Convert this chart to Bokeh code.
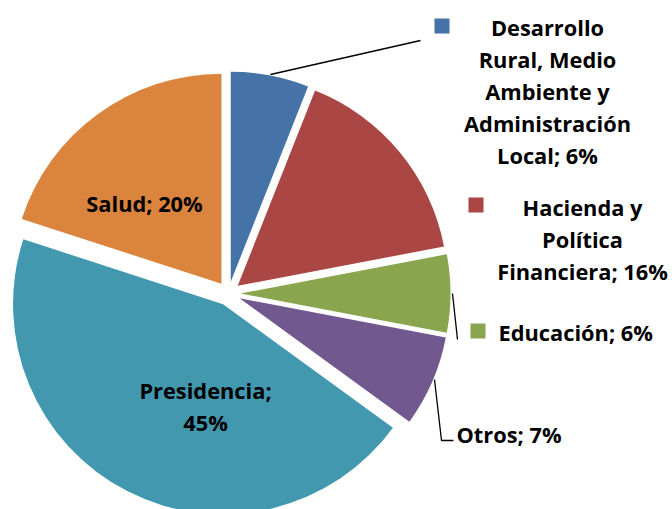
import numpy as np
from bokeh.plotting import figure
from bokeh.models import Range1d, ColumnDataSource
from bokeh.core.properties import value
from bokeh.embed import file_html
from bokeh.resources import INLINE

# ---- data ----
categories = ["Desarrollo Rural, Medio Ambiente y Administración Local",
              "Hacienda y Política Financiera", "Educación", "Otros",
              "Presidencia", "Salud"]
shares = [6, 16, 6, 7, 45, 20]
colors = ["#4572A7", "#AA4643", "#89A54E", "#71588F", "#4198AF", "#DB843D"]
label_lines = [
    ["Desarrollo", "Rural, Medio", "Ambiente y", "Administración", "Local; 6%"],
    ["Hacienda y", "Política", "Financiera; 16%"],
    ["Educación; 6%"],
    ["Otros; 7%"],
    ["Presidencia;", "45%"],
    ["Salud; 20%"],
]

W, H = 672, 509
p = figure(width=W, height=H, x_range=Range1d(0, W), y_range=Range1d(0, H),
           output_backend="svg", toolbar_location=None, min_border=0)
p.axis.visible = False
p.grid.visible = False
p.outline_line_color = None
p.background_fill_color = "white"

def Y(py):
    return H - py

cx, cy = 228, Y(293)
R = 210
explode = 12

vals = np.array(shares, dtype=float)
frac = vals / vals.sum()
theta1 = np.cumsum(frac) * 2 * np.pi
theta0 = theta1 - frac * 2 * np.pi
mid = (theta0 + theta1) / 2
xs = cx + explode * np.sin(mid)
ys = cy + explode * np.cos(mid)
src = ColumnDataSource(dict(x=xs, y=ys, start=np.pi / 2 - theta1,
                            end=np.pi / 2 - theta0, color=colors))
p.wedge(x="x", y="y", radius=R, start_angle="start", end_angle="end",
        direction="anticlock", fill_color="color", line_color=None, source=src)

FONT = value("Open Sans")
FS = "21.8px"
LH = 32

def draw_lines(lines, x, y0, align="center"):
    ys_ = [Y(y0 + i * LH) for i in range(len(lines))]
    p.text(x=[x] * len(lines), y=ys_, text=lines, text_font=FONT,
           text_font_size=FS, text_font_style="bold", text_align=align,
           text_baseline="middle", text_color="black")

# outside labels with keys
draw_lines(label_lines[0], 547, 27)
draw_lines(label_lines[1], 582, 207)
draw_lines(label_lines[2], 498, 332, align="left")
draw_lines(label_lines[3], 456, 434, align="left")
# inside labels
draw_lines(label_lines[4], 205, 390)
draw_lines(label_lines[5], 144, 203)

# legend keys
key_x = [441.5, 475.5, 477.5]
key_y = [Y(25.5), Y(204.5), Y(330.5)]
p.rect(x=key_x, y=key_y, width=15, height=15, fill_color=colors[:3], line_color=None)

# leader lines
p.line(x=[270, 420], y=[Y(74), Y(40)], line_color="black", line_width=1.3)
p.line(x=[452, 457], y=[Y(293), Y(339)], line_color="black", line_width=1.3)
p.line(x=[434, 441, 453], y=[Y(379), Y(440), Y(440)], line_color="black", line_width=1.3)

open("out.html", "w").write(file_html(p, INLINE))
